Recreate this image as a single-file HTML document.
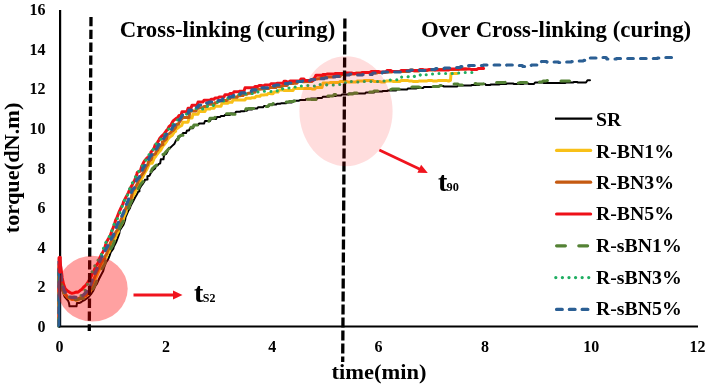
<!DOCTYPE html><html><head><meta charset="utf-8"><title>Cure curves</title><style>html,body{margin:0;padding:0;background:#fff}svg{display:block}</style></head><body><svg width="708" height="386" viewBox="0 0 708 386">
<rect width="708" height="386" fill="#fff"/>
<polyline points="59.0,326.0 59.0,275.0 61.0,283.0 62.5,291.0 64.5,296.5 68.0,300.5 69.0,303.0 69.5,306.3 76.5,306.3 77.0,303.0 77.0,303.0 79.0,303.1 81.0,302.3 83.0,300.8 85.0,299.8 87.0,298.2 89.0,296.7 91.0,294.2 93.0,291.3 95.0,286.5 97.0,283.6 99.0,279.0 101.2,274.7 103.2,271.1 103.9,268.2 105.7,262.9 108.1,259.4 109.7,255.4 110.6,252.5 113.3,248.7 113.7,246.8 114.9,244.5 116.4,241.5 118.1,236.8 119.4,233.2 119.7,230.4 122.0,227.0 123.5,224.7 125.2,219.6 125.5,217.4 128.2,211.1 129.9,208.3 130.8,205.5 133.4,200.7 135.2,197.3 136.8,194.5 138.2,191.8 139.4,191.4 139.4,189.1 141.0,186.2 142.4,184.4 144.5,181.1 144.9,179.8 147.5,179.4 147.4,176.2 149.6,175.7 150.7,173.2 152.9,170.1 155.1,168.5 155.9,166.1 157.8,165.3 158.5,164.1 160.2,163.3 160.8,159.3 163.5,159.3 163.8,156.5 164.7,154.4 166.1,154.0 167.0,152.5 169.1,147.7 169.5,148.5 172.2,145.9 174.5,143.7 176.0,140.4 177.7,138.5 179.8,136.8 182.1,134.7 183.0,133.1 186.0,133.1 187.0,130.4 189.0,130.4 190.0,128.3 193.0,128.3 194.0,125.1 198.0,125.1 199.0,123.6 204.0,123.6 205.0,121.0 210.0,121.0 211.0,119.0 216.0,119.0 217.0,117.0 220.0,117.0 221.0,116.1 224.0,116.1 225.0,114.9 230.0,114.9 231.0,113.4 235.0,113.4 236.0,111.7 240.0,111.7 241.0,111.3 244.0,111.3 245.0,110.7 247.0,110.7 248.0,109.6 252.0,109.6 253.0,108.6 257.0,108.6 258.0,107.3 263.0,107.3 264.0,106.0 269.0,106.0 270.0,104.6 276.0,104.6 277.0,103.8 280.0,103.8 281.0,103.3 286.0,103.3 287.0,102.4 292.0,102.4 293.0,100.7 299.0,100.7 300.0,100.1 305.0,100.1 306.0,99.3 310.0,99.3 311.0,98.5 317.0,98.5 318.0,98.0 322.0,98.0 323.0,96.7 329.0,96.7 330.0,95.9 336.0,95.9 337.0,95.4 341.0,95.4 342.0,94.5 348.0,94.5 349.0,93.5 355.0,93.5 356.0,93.5 365.0,93.5 366.0,92.5 374.0,92.5 375.0,91.5 382.0,91.5 383.0,91.0 387.0,91.0 388.0,90.5 396.0,90.5 397.0,89.5 401.0,89.5 402.0,89.5 407.0,89.5 408.0,88.5 416.0,88.5 417.0,88.0 423.0,88.0 424.0,87.0 433.0,87.0 434.0,87.0 437.0,87.0 438.0,86.0 443.0,86.0 444.0,86.5 447.0,86.5 448.0,86.5 457.0,86.5 458.0,85.5 461.0,85.5 462.0,85.5 471.0,85.5 472.0,85.0 479.0,85.0 480.0,84.0 485.0,84.0 486.0,85.0 490.0,85.0 491.0,84.5 499.0,84.5 500.0,84.0 506.0,84.0 507.0,83.5 513.0,83.5 514.0,84.0 523.0,84.0 524.0,83.5 528.0,83.5 529.0,84.0 534.0,84.0 535.0,82.5 543.0,82.5 544.0,83.0 547.0,83.0 548.0,83.0 556.0,83.0 557.0,83.0 565.0,83.0 566.0,82.5 573.0,82.5 574.0,82.0 577.0,82.0 578.0,82.5 584.0,82.5 585.0,82.5 586.0,82.5 586.0,82.5 586.0,82.5 587.5,80.3 590.0,80.3" fill="none" stroke="#000" stroke-width="2.0" stroke-linejoin="round" stroke-linecap="round"/>
<polyline points="59.0,326.0 59.0,268.0 60.8,277.4 62.0,286.3 64.3,293.8 68.0,297.6 70.0,298.9 72.0,299.5 74.0,298.8 76.0,300.3 78.0,300.0 80.0,299.0 82.0,298.6 84.0,297.5 86.0,295.7 88.0,294.5 90.0,291.8 92.0,288.3 94.0,282.5 96.0,278.0 98.0,273.1 100.2,268.1 100.7,267.0 102.1,264.7 103.6,261.6 106.7,256.1 107.5,253.8 109.0,251.9 110.1,249.2 111.9,245.2 112.9,242.5 115.6,237.2 115.8,236.2 116.9,234.1 118.4,231.6 118.5,228.7 120.0,227.0 122.8,222.0 123.7,217.7 124.9,214.8 126.2,211.9 126.5,208.6 129.0,206.8 131.0,200.6 133.0,195.8 134.7,193.5 137.1,187.8 138.8,184.4 139.7,181.7 140.7,180.0 142.7,177.1 144.8,172.7 146.9,169.2 147.8,167.1 149.7,163.4 150.9,163.3 152.2,163.3 154.1,158.4 155.6,156.5 156.7,154.7 159.3,151.6 160.7,150.2 163.0,145.8 164.0,144.9 166.3,141.8 167.8,139.3 169.8,137.1 172.2,135.6 174.2,132.1 175.7,131.2 175.7,129.6 178.1,127.8 179.5,126.6 181.7,125.4 183.0,122.2 188.0,122.2 189.0,118.1 192.0,118.1 193.0,114.2 198.0,114.2 199.0,111.4 205.0,111.4 206.0,109.0 210.0,109.0 211.0,108.2 214.0,108.2 215.0,106.3 221.0,106.3 222.0,103.3 228.0,103.3 229.0,102.3 232.0,102.3 233.0,100.1 239.0,100.1 240.0,100.0 245.0,100.0 246.0,98.2 251.0,98.2 252.0,97.7 255.0,97.7 256.0,96.3 260.0,96.3 261.0,94.9 264.0,94.9 265.0,94.8 267.0,94.8 268.0,93.6 270.0,93.6 271.0,93.8 273.0,93.8 274.0,92.0 278.0,92.0 279.0,89.9 283.0,89.9 284.0,90.5 293.0,90.5 294.0,88.5 298.0,88.5 299.0,88.5 302.0,88.5 303.0,88.5 311.0,88.5 312.0,89.0 315.0,89.0 316.0,87.5 322.0,87.5 323.0,83.0 329.0,83.0 330.0,82.5 334.0,82.5 335.0,82.5 339.0,82.5 340.0,81.5 347.0,81.5 348.0,82.0 351.0,82.0 352.0,82.0 356.0,82.0 357.0,81.0 363.0,81.0 364.0,80.5 373.0,80.5 374.0,81.5 380.0,81.5 381.0,82.0 385.0,82.0 386.0,81.0 392.0,81.0 393.0,81.5 400.0,81.5 401.0,80.5 408.0,80.5 409.0,81.0 412.0,81.0 413.0,81.5 418.0,81.5 419.0,81.0 427.0,81.0 428.0,80.5 432.0,80.5 433.0,81.0 437.0,81.0 438.0,80.5 447.0,80.5 448.0,81.0 449.0,81.0 449.0,80.4 449.0,80.4 450.5,80.4 451.0,73.5 457.0,73.5" fill="none" stroke="#f8c018" stroke-width="3.0" stroke-linejoin="round" stroke-linecap="round"/>
<polyline points="59.0,326.0 59.0,264.0 60.8,274.5 62.0,284.3 64.3,292.7 68.0,297.7 70.0,297.6 72.0,299.2 74.0,298.8 76.0,298.9 78.0,298.9 80.0,297.7 82.0,297.4 84.0,296.0 86.0,295.8 88.0,292.7 90.0,289.6 92.0,284.4 94.0,278.9 96.0,274.0 98.0,269.5 100.2,265.1 101.9,261.7 104.5,258.5 104.9,256.5 106.7,253.9 107.4,251.4 107.9,250.5 110.0,246.0 110.0,244.0 112.4,238.9 114.2,236.1 116.0,231.7 117.5,230.0 119.4,224.7 119.7,223.0 121.9,217.5 124.1,211.6 126.2,207.5 127.0,205.7 128.3,201.1 131.2,197.9 132.6,191.2 134.8,188.5 137.6,183.1 138.1,181.1 140.0,177.6 141.4,175.3 144.3,171.3 146.1,166.6 147.7,164.8 148.5,161.9 151.1,159.7 152.6,155.1 155.4,153.9 156.1,151.7 157.9,149.7 158.7,147.8 161.2,145.1 162.9,144.6 162.3,142.0 163.8,141.2 166.4,138.8 167.5,134.7 170.0,133.3 172.7,130.3 173.1,130.5 175.3,127.9 176.9,124.2 178.5,124.2 178.8,123.0 180.8,120.1 183.0,117.6 189.0,117.6 190.0,111.0 196.0,111.0 197.0,108.2 199.0,108.2 200.0,107.8 203.0,107.8 204.0,106.5 207.0,106.5 208.0,104.3 214.0,104.3 215.0,102.8 217.0,102.8 218.0,101.2 220.0,101.2 221.0,100.4 227.0,100.4 228.0,98.7 230.0,98.7 231.0,97.3 237.0,97.3 238.0,95.8 240.0,95.8 241.0,95.6 243.0,95.6 244.0,94.3 247.0,94.3 248.0,93.3 252.0,93.3 253.0,92.3 255.0,92.3 256.0,89.3 260.0,89.3 261.0,89.1 263.0,89.1 264.0,88.5 269.0,88.5 270.0,87.6 276.0,87.6 277.0,86.4 282.0,86.4 283.0,85.5 287.0,85.5 288.0,83.6 293.0,83.6 294.0,83.2 297.0,83.2 298.0,81.6 302.0,81.6 303.0,81.7 305.0,81.7 306.0,81.4 312.0,81.4 313.0,79.1 317.0,79.1 318.0,78.7 320.0,78.7 321.0,77.5 327.0,77.5 328.0,76.9 333.0,76.9 334.0,76.5 340.0,76.5 341.0,74.5 350.0,74.5 351.0,74.0 355.0,74.0 356.0,73.0 362.0,73.0 363.0,72.5 369.0,72.5 370.0,73.0 377.0,73.0 378.0,72.5 385.0,72.5 386.0,72.0 392.0,72.0 393.0,71.5 399.0,71.5 400.0,71.5 409.0,71.5 410.0,70.0 413.0,70.0 414.0,71.0 419.0,71.0 420.0,70.5 427.0,70.5 428.0,70.0 431.0,70.0 432.0,70.0 435.0,70.0 436.0,69.5 445.0,69.5 446.0,69.5 449.0,69.5 450.0,69.5 459.0,69.5 460.0,69.0 464.0,69.0 465.0,69.0 466.0,69.0 466.0,69.1" fill="none" stroke="#c55a11" stroke-width="3.0" stroke-linejoin="round" stroke-linecap="round"/>
<polyline points="59.0,326.0 59.0,257.8 61.0,268.0 62.2,278.0 63.5,284.0 65.3,288.9 68.0,291.3 70.0,292.6 72.0,293.3 74.0,292.9 76.0,292.1 78.0,292.2 80.0,290.6 82.0,289.3 84.0,286.8 86.0,285.0 88.0,282.1 90.0,279.0 92.0,274.6 94.0,270.6 96.0,265.8 98.0,263.1 99.3,259.2 101.7,253.8 102.8,252.3 104.5,248.5 105.0,246.9 106.3,242.5 108.1,239.3 110.1,236.1 112.3,229.8 112.9,228.4 114.3,224.9 115.7,220.0 116.9,217.8 118.8,212.7 121.2,207.4 123.0,203.9 123.5,202.0 126.4,196.4 127.1,195.1 128.4,192.6 130.0,188.7 131.4,186.1 131.6,186.2 132.6,184.1 134.9,179.8 136.9,173.9 137.3,172.4 140.3,171.1 141.6,166.7 143.9,161.9 144.5,160.9 147.0,157.9 148.4,156.9 150.4,154.0 151.0,152.0 153.4,149.5 154.1,147.9 155.2,144.8 156.5,144.3 158.2,141.1 158.9,140.4 159.7,138.4 161.4,136.4 164.0,134.2 166.8,130.1 167.4,130.0 169.0,126.6 171.1,124.8 172.2,122.4 173.1,120.9 176.5,118.3 177.3,118.1 179.0,115.5 181.0,115.5 182.0,111.7 187.0,111.7 188.0,108.3 191.0,108.3 192.0,105.2 197.0,105.2 198.0,102.1 200.0,102.1 201.0,101.9 203.0,101.9 204.0,100.2 210.0,100.2 211.0,99.2 214.0,99.2 215.0,98.0 218.0,98.0 219.0,97.0 224.0,97.0 225.0,94.7 229.0,94.7 230.0,93.4 233.0,93.4 234.0,91.7 239.0,91.7 240.0,91.2 244.0,91.2 245.0,87.8 248.0,87.8 249.0,87.7 254.0,87.7 255.0,86.5 258.0,86.5 259.0,85.5 261.0,85.5 262.0,85.8 264.0,85.8 265.0,84.9 270.0,84.9 271.0,83.7 276.0,83.7 277.0,83.3 283.0,83.3 284.0,81.3 286.0,81.3 287.0,81.9 289.0,81.9 290.0,81.0 294.0,81.0 295.0,81.0 300.0,81.0 301.0,79.0 304.0,79.0 305.0,80.5 313.0,80.5 314.4,78.4 316.0,75.3 322.0,75.3 323.0,74.5 326.0,74.5 327.0,74.0 334.0,74.0 335.0,73.5 344.0,73.5 345.0,73.0 352.0,73.0 353.0,73.5 361.0,73.5 362.0,72.5 370.0,72.5 371.0,71.5 379.0,71.5 380.0,72.0 386.0,72.0 387.0,70.5 391.0,70.5 392.0,71.5 400.0,71.5 401.0,70.5 409.0,70.5 410.0,70.5 419.0,70.5 420.0,69.5 423.0,69.5 424.0,70.0 428.0,70.0 429.0,69.5 434.0,69.5 435.0,70.0 443.0,70.0 444.0,70.0 449.0,70.0 450.0,69.0 458.0,69.0 459.0,69.0 463.0,69.0 464.0,69.0 470.0,69.0 471.0,69.5 477.0,69.5 478.0,68.5 483.0,68.5 483.6,68.4 483.6,68.4" fill="none" stroke="#ee1018" stroke-width="3.0" stroke-linejoin="round" stroke-linecap="round"/>
<polyline points="59.0,326.0 59.0,272.0 61.0,281.0 62.5,288.0 64.5,293.0 68.0,296.7 70.0,297.7 72.0,299.0 74.0,299.6 76.0,299.8 78.0,299.3 80.0,298.8 82.0,298.4 84.0,298.5 86.0,297.7 88.0,295.6 90.0,293.1 92.0,290.4 94.0,287.4 96.0,282.6 98.0,277.8 100.0,273.2 101.8,269.0 104.2,265.0 105.1,263.5 105.4,260.7 107.9,255.8 110.0,252.4 110.6,249.8 111.6,246.8 112.6,246.1 114.3,241.5 114.6,240.4 116.0,236.5 117.9,233.5 118.6,230.9 120.9,224.8 123.5,220.9 124.2,218.8 126.3,213.1 127.5,210.9 129.1,206.6 129.9,204.3 132.1,200.3 133.3,197.4 134.6,193.7 135.9,192.1 137.6,189.6 138.6,188.1 140.6,184.2 141.8,182.9 143.5,181.1 144.4,178.5 145.9,177.5 147.8,174.2 148.8,173.7 150.0,173.7 152.2,168.9 154.1,167.0 156.3,165.2 157.8,161.8 159.0,161.8 160.1,161.0 160.6,158.4 162.6,154.6 164.0,154.3 166.0,151.8 168.1,149.4 170.2,147.7 171.2,145.4 172.7,142.8 174.3,142.5 175.0,140.0 177.7,139.8 178.5,138.1 178.4,136.8 181.0,135.2 184.0,135.2 185.0,130.4 190.0,130.4 191.0,127.3 193.0,127.3 194.0,124.9 198.0,124.9 199.0,123.1 203.0,123.1 204.0,121.2 209.0,121.2 210.0,118.3 214.0,118.3 215.0,117.4 219.0,117.4 220.0,115.7 225.0,115.7 226.0,113.8 231.0,113.8 232.0,114.2 236.0,114.2 237.0,111.8 240.0,111.8 241.0,111.5 245.0,111.5 246.0,108.8 248.0,108.8 249.0,108.5 255.0,108.5 256.0,107.9 258.0,107.9 259.0,106.9 262.0,106.9 263.0,106.2 265.0,106.2 266.0,106.6 268.0,106.6 269.0,104.8 272.0,104.8 273.0,103.6 279.0,103.6 280.0,103.2 284.0,103.2 285.0,101.9 288.0,101.9 289.0,101.6 293.0,101.6 294.0,101.1 299.0,101.1 300.0,100.4 302.0,100.4 303.0,99.2 307.0,99.2 308.0,99.2 310.0,99.2 311.0,99.4 317.0,99.4 318.0,97.0 322.0,97.0 323.0,96.6 326.0,96.6 327.0,96.0 333.0,96.0 334.0,94.6 336.0,94.6 337.0,95.1 341.0,95.1 342.0,95.2 344.0,95.2 345.0,94.5 348.0,94.5 349.0,94.0 353.0,94.0 354.0,93.0 357.0,93.0 358.0,93.5 367.0,93.5 368.0,92.0 373.0,92.0 374.0,91.0 381.0,91.0 382.0,89.5 391.0,89.5 392.0,89.0 400.0,89.0 401.0,88.0 405.0,88.0 406.0,88.0 411.0,88.0 412.0,87.0 419.0,87.0 420.0,87.5 423.0,87.5 424.0,86.0 432.0,86.0 433.0,86.5 439.0,86.5 440.0,85.5 443.0,85.5 444.0,85.5 449.0,85.5 450.0,84.0 458.0,84.0 459.0,85.0 464.0,85.0 465.0,83.5 471.0,83.5 472.0,83.5 476.0,83.5 477.0,84.0 483.0,84.0 484.0,83.5 490.0,83.5 491.0,82.5 500.0,82.5 501.0,82.5 505.0,82.5 506.0,82.0 513.0,82.0 514.0,83.0 519.0,83.0 520.0,82.5 528.0,82.5 529.0,81.5 534.0,81.5 535.0,81.0 538.0,81.0 539.0,82.0 542.0,82.0 543.0,81.0 546.0,81.0 547.0,80.5 551.0,80.5 552.0,81.0 559.0,81.0 560.0,81.0 569.0,81.0 570.0,81.0 570.0,81.0 570.0,81.0" fill="none" stroke="#548235" stroke-width="3.0" stroke-linejoin="round" stroke-linecap="round" stroke-dasharray="8.6 13.6"/>
<polyline points="59.0,326.0 59.0,270.0 60.8,278.2 62.0,285.9 64.3,292.6 68.0,295.9 70.0,297.7 72.0,296.7 74.0,297.5 76.0,298.0 78.0,297.6 80.0,296.2 82.0,295.0 84.0,292.2 86.0,289.1 88.0,282.7 90.0,276.5 92.0,272.0 94.0,267.7 96.0,263.1 98.0,260.3 100.5,257.5 102.5,251.5 103.7,248.0 104.4,244.6 107.1,240.7 108.1,239.3 110.1,235.1 112.4,229.5 113.9,224.8 116.0,220.2 117.7,218.3 119.1,215.2 120.9,209.8 122.5,205.2 124.4,202.2 124.5,199.0 125.9,198.2 127.1,196.2 128.0,193.7 128.6,191.7 130.3,187.1 131.8,183.9 134.0,180.2 134.7,178.9 136.6,174.5 138.4,171.8 139.9,170.2 140.6,167.9 142.9,165.0 144.1,163.3 146.4,159.1 147.7,155.9 149.7,154.2 152.2,151.6 153.1,149.7 154.2,145.9 156.8,143.5 157.7,142.6 158.1,142.3 160.4,140.0 162.1,136.9 162.8,136.7 164.9,134.6 167.4,130.3 168.4,129.4 170.1,128.2 172.1,126.5 173.2,124.2 174.6,123.9 176.1,122.8 178.0,119.3 180.0,119.3 181.0,116.1 186.0,116.1 187.0,112.2 190.0,112.2 191.0,110.4 194.0,110.4 195.0,108.5 197.0,108.5 198.0,108.9 204.0,108.9 205.0,106.3 207.0,106.3 208.0,106.4 213.0,106.4 214.0,103.6 217.0,103.6 218.0,101.0 224.0,101.0 225.0,98.3 228.0,98.3 229.0,96.6 235.0,96.6 236.0,96.4 238.0,96.4 239.0,94.4 242.0,94.4 243.0,94.0 249.0,94.0 250.0,93.5 256.0,93.5 257.0,91.9 260.0,91.9 261.0,91.3 265.0,91.3 266.0,91.5 271.0,91.5 272.0,91.4 277.0,91.4 278.0,89.0 282.0,89.0 283.0,88.7 285.0,88.7 286.0,88.0 292.0,88.0 293.0,87.0 296.0,87.0 297.0,86.0 301.0,86.0 302.0,86.0 306.0,86.0 307.0,85.5 310.0,85.5 311.0,86.0 316.0,86.0 317.0,84.5 326.0,84.5 327.0,85.0 334.0,85.0 335.0,84.5 341.0,84.5 342.0,82.8 346.0,82.8 347.0,81.5 353.0,81.5 354.0,82.0 361.0,82.0 362.0,81.5 369.0,81.5 370.0,81.5 378.0,81.5 379.0,81.0 386.0,81.0 387.0,80.0 394.0,80.0 395.0,79.7 399.0,79.7 400.0,77.1 403.0,77.1 404.0,76.7 408.0,76.7 409.0,77.0 414.0,77.0 415.0,75.3 420.0,75.3 421.0,74.1 424.0,74.1 425.0,74.8 427.0,74.8 428.0,74.0 437.0,74.0 438.0,73.5 447.0,73.5 448.0,73.5 455.0,73.5 456.0,73.0 464.0,73.0 465.0,72.5 473.0,72.5 474.0,72.0 475.0,72.0 475.5,72.6" fill="none" stroke="#1fae62" stroke-width="3.1" stroke-linejoin="round" stroke-linecap="round" stroke-dasharray="0.01 6.6"/>
<polyline points="59.0,326.0 59.0,262.0 60.8,272.6 62.0,282.6 64.3,291.1 68.0,295.5 70.0,297.1 72.0,297.4 74.0,297.2 76.0,297.4 78.0,297.1 80.0,296.8 82.0,296.2 84.0,294.3 86.0,292.3 88.0,290.4 90.0,286.9 92.0,280.7 94.0,275.3 96.0,270.9 98.0,266.5 99.5,261.9 101.5,257.4 103.9,254.1 105.1,252.8 105.1,250.5 108.0,245.5 109.8,241.5 112.4,237.0 114.0,233.6 116.0,228.4 117.0,225.2 119.5,220.4 121.3,217.0 123.7,212.8 124.6,207.6 126.9,203.4 128.0,201.0 128.8,198.4 130.8,193.8 132.8,189.1 134.3,187.9 135.7,183.2 136.3,180.3 139.4,177.1 139.9,174.4 141.5,172.5 141.9,171.2 142.9,168.4 145.0,165.4 146.2,164.1 147.2,162.2 148.0,161.3 148.5,159.6 150.3,156.2 151.7,155.0 152.7,153.0 155.1,150.8 156.9,148.1 159.2,144.1 160.0,142.7 161.1,141.5 163.1,139.4 164.8,136.5 165.6,135.5 167.3,133.2 169.3,130.7 170.3,130.1 171.4,129.8 173.0,126.3 174.7,125.0 176.8,122.0 177.8,120.1 179.4,119.9 181.0,117.6 183.0,114.4 188.0,114.4 189.0,110.2 194.0,110.2 195.0,107.2 198.0,107.2 199.0,105.0 202.0,105.0 203.0,105.2 205.0,105.2 206.0,103.1 208.0,103.1 209.0,102.0 215.0,102.0 216.0,100.7 222.0,100.7 223.0,98.5 225.0,98.5 226.0,97.1 230.0,97.1 231.0,96.6 233.0,96.6 234.0,94.7 240.0,94.7 241.0,92.8 245.0,92.8 246.0,92.0 251.0,92.0 252.0,89.8 257.0,89.8 258.0,87.8 262.0,87.8 263.0,87.8 269.0,87.8 270.0,85.8 275.0,85.8 276.0,85.0 281.0,85.0 282.0,83.6 288.0,83.6 289.0,83.0 295.0,83.0 296.0,81.5 302.0,81.5 303.0,80.7 307.0,80.7 308.0,80.7 310.0,80.7 311.0,79.6 317.0,79.6 318.0,78.4 320.0,78.4 321.0,78.7 324.0,78.7 325.0,77.9 329.0,77.9 330.0,77.2 332.0,77.2 333.0,76.9 335.0,76.9 336.0,76.3 342.0,76.3 343.0,75.0 349.0,75.0 350.0,74.0 354.0,74.0 355.0,75.0 362.0,75.0 363.0,74.5 368.0,74.5 369.0,74.5 372.0,74.5 373.0,73.0 382.0,73.0 383.0,72.0 391.0,72.0 392.0,72.0 400.0,72.0 401.0,72.0 406.0,72.0 407.0,71.0 410.0,71.0 411.0,70.0 419.0,70.0 420.0,70.5 426.0,70.5 427.0,69.5 435.0,69.5 436.0,68.5 444.0,68.5 445.0,68.0 454.0,68.0 455.0,67.5 460.0,67.5 461.0,66.5 468.0,66.5 469.0,65.5 475.0,65.5 476.0,65.5 483.0,65.5 484.0,65.0 491.0,65.0 492.0,65.0 500.0,65.0 501.0,65.5 506.0,65.5 507.0,65.0 516.0,65.0 517.0,65.5 522.0,65.5 523.0,66.5 526.0,66.5 527.0,65.5 531.0,65.5 532.0,65.0 538.0,65.0 539.0,61.6 541.0,61.6 542.0,61.5 546.0,61.5 547.0,62.0 554.0,62.0 555.0,62.0 558.0,62.0 559.0,62.5 563.0,62.5 564.0,62.0 571.0,62.0 572.0,61.5 577.0,61.5 578.0,61.0 583.0,61.0 584.0,60.3 589.0,60.3 590.0,58.0 594.0,58.0 595.0,58.0 602.0,58.0 603.0,57.5 606.0,57.5 607.0,59.0 616.0,59.0 617.0,58.5 622.0,58.5 623.0,58.5 632.0,58.5 633.0,58.5 636.0,58.5 637.0,58.5 644.0,58.5 645.0,58.5 648.0,58.5 649.0,58.5 657.0,58.5 658.0,58.0 663.0,58.0 664.0,57.5 672.0,57.5 673.0,58.0 673.0,58.0 673.0,58.0" fill="none" stroke="#2b5f94" stroke-width="3.2" stroke-linejoin="round" stroke-linecap="round" stroke-dasharray="5.6 7.2"/>
<path d="M60.1 10V327.5M59 326.5H698" fill="none" stroke="#000" stroke-width="2.2"/>
<path d="M59.2 326.5V268" stroke="#2b5f94" stroke-width="2.2" fill="none"/><path d="M60 257.5V272" stroke="#ee1018" stroke-width="3.6" stroke-linecap="round" fill="none"/>
<path d="M91 17L89.3 331" stroke="#000" stroke-width="3.3" stroke-dasharray="9.3 3.5" fill="none"/>
<path d="M344.9 18.4L342.7 362" stroke="#000" stroke-width="3.3" stroke-dasharray="10 3" fill="none"/>
<ellipse cx="92.5" cy="288.7" rx="35.2" ry="32.9" fill="#ff0000" fill-opacity="0.37"/>
<ellipse cx="346" cy="111.3" rx="46.6" ry="55" fill="#ff0000" fill-opacity="0.135"/>
<g stroke="#f0141e" fill="#f0141e" stroke-width="2.8"><path d="M133.5 295H175" fill="none"/><path d="M182.5 295l-9.5-4.4v8.8z" stroke="none"/><path d="M379.3 150.1L420 169.2" fill="none"/><path d="M427.8 172.9l-10.4-0.2 3.7-8z" stroke="none"/></g>
<text x="45.6" y="15.3" font-size="16" text-anchor="end" font-family="'Liberation Serif', serif" font-weight="bold" fill="#000">16</text>
<text x="45.6" y="54.9" font-size="16" text-anchor="end" font-family="'Liberation Serif', serif" font-weight="bold" fill="#000">14</text>
<text x="45.6" y="94.4" font-size="16" text-anchor="end" font-family="'Liberation Serif', serif" font-weight="bold" fill="#000">12</text>
<text x="45.6" y="134.0" font-size="16" text-anchor="end" font-family="'Liberation Serif', serif" font-weight="bold" fill="#000">10</text>
<text x="45.6" y="173.5" font-size="16" text-anchor="end" font-family="'Liberation Serif', serif" font-weight="bold" fill="#000">8</text>
<text x="45.6" y="213.1" font-size="16" text-anchor="end" font-family="'Liberation Serif', serif" font-weight="bold" fill="#000">6</text>
<text x="45.6" y="252.7" font-size="16" text-anchor="end" font-family="'Liberation Serif', serif" font-weight="bold" fill="#000">4</text>
<text x="45.6" y="292.2" font-size="16" text-anchor="end" font-family="'Liberation Serif', serif" font-weight="bold" fill="#000">2</text>
<text x="45.6" y="331.8" font-size="16" text-anchor="end" font-family="'Liberation Serif', serif" font-weight="bold" fill="#000">0</text>
<text x="59.6" y="352.3" font-size="16" text-anchor="middle" font-family="'Liberation Serif', serif" font-weight="bold" fill="#000">0</text>
<text x="165.9" y="352.3" font-size="16" text-anchor="middle" font-family="'Liberation Serif', serif" font-weight="bold" fill="#000">2</text>
<text x="272.3" y="352.3" font-size="16" text-anchor="middle" font-family="'Liberation Serif', serif" font-weight="bold" fill="#000">4</text>
<text x="378.6" y="352.3" font-size="16" text-anchor="middle" font-family="'Liberation Serif', serif" font-weight="bold" fill="#000">6</text>
<text x="485.0" y="352.3" font-size="16" text-anchor="middle" font-family="'Liberation Serif', serif" font-weight="bold" fill="#000">8</text>
<text x="591.3" y="352.3" font-size="16" text-anchor="middle" font-family="'Liberation Serif', serif" font-weight="bold" fill="#000">10</text>
<text x="697.6" y="352.3" font-size="16" text-anchor="middle" font-family="'Liberation Serif', serif" font-weight="bold" fill="#000">12</text>
<text transform="translate(119.7,37) scale(1.027,1)" font-size="22.2" font-family="'Liberation Serif', serif" font-weight="bold" fill="#000">Cross-linking (curing)</text>
<text transform="translate(421,37) scale(1.027,1)" font-size="22.2" font-family="'Liberation Serif', serif" font-weight="bold" fill="#000">Over Cross-linking (curing)</text>
<text transform="translate(331.5,379) scale(1.125,1)" font-size="20" font-family="'Liberation Serif', serif" font-weight="bold" fill="#000">time(min)</text>
<text transform="translate(19.3,233.3) rotate(-90) scale(1.12,1)" font-size="20" font-family="'Liberation Serif', serif" font-weight="bold" fill="#000">torque(dN.m)</text>
<text x="194" y="302.3" font-size="28" font-family="'Liberation Serif', serif" font-weight="bold" fill="#000">t<tspan font-size="12" dx="-0.5">S2</tspan></text>
<text x="438" y="191.2" font-size="28" font-family="'Liberation Serif', serif" font-weight="bold" fill="#000">t<tspan font-size="12.3" dx="-0.8">90</tspan></text>
<path d="M555 118.6H592.3" stroke="#000" stroke-width="2.3" fill="none"/>
<text x="596" y="126.0" font-size="19.8" font-family="'Liberation Serif', serif" font-weight="bold" fill="#000">SR</text>
<path d="M556.6 150.4H590.6" stroke="#f8c018" stroke-width="3.2" stroke-linecap="round" fill="none"/>
<text x="596" y="157.6" font-size="19.8" font-family="'Liberation Serif', serif" font-weight="bold" fill="#000">R-BN1%</text>
<path d="M556.6 182.2H590.6" stroke="#c55a11" stroke-width="3.2" stroke-linecap="round" fill="none"/>
<text x="596" y="189.0" font-size="19.8" font-family="'Liberation Serif', serif" font-weight="bold" fill="#000">R-BN3%</text>
<path d="M556.6 214.0H590.6" stroke="#ee1018" stroke-width="3.2" stroke-linecap="round" fill="none"/>
<text x="596" y="220.1" font-size="19.8" font-family="'Liberation Serif', serif" font-weight="bold" fill="#000">R-BN5%</text>
<path d="M556.6 245.8H590.6" stroke="#548235" stroke-width="3.2" stroke-linecap="round" fill="none" stroke-dasharray="8.8 13.4"/>
<text x="596" y="251.5" font-size="19.8" font-family="'Liberation Serif', serif" font-weight="bold" fill="#000">R-sBN1%</text>
<path d="M555.8 277.6H589" stroke="#1fae62" stroke-width="3.3000000000000003" stroke-linecap="round" fill="none" stroke-dasharray="0.01 6.58"/>
<text x="596" y="283.8" font-size="19.8" font-family="'Liberation Serif', serif" font-weight="bold" fill="#000">R-sBN3%</text>
<path d="M556.6 309.4H590.6" stroke="#2b5f94" stroke-width="3.4000000000000004" stroke-linecap="round" fill="none" stroke-dasharray="5.6 7.2"/>
<text x="596" y="315.3" font-size="19.8" font-family="'Liberation Serif', serif" font-weight="bold" fill="#000">R-sBN5%</text>
</svg></body></html>
